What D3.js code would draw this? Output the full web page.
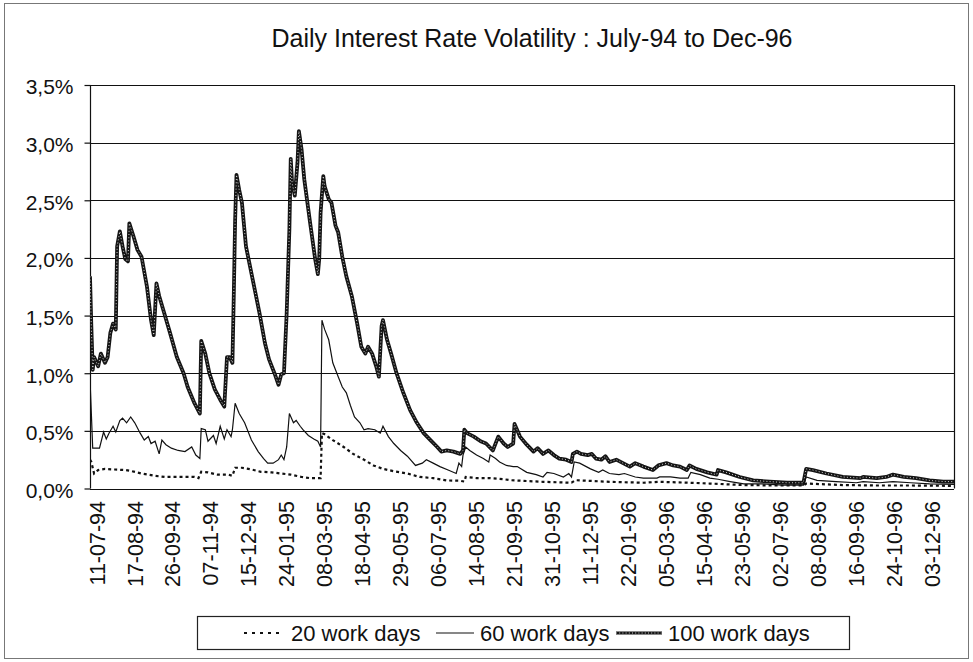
<!DOCTYPE html>
<html>
<head>
<meta charset="utf-8">
<script src="https://cdn.jsdelivr.net/npm/d3@7"></script>
<style>
  html, body { margin: 0; padding: 0; background: #fff; }
  svg { display: block; font-family: "Liberation Sans", Arial, sans-serif; }
</style>
</head>
<body>
<svg id="chart" width="973" height="662"></svg>
<script>
// ---------------- DATA ----------------
const title = "Daily Interest Rate Volatility : July-94 to Dec-96";

// x-axis category labels (every 28th work day) and their work-day index
const xLabels = ["11-07-94","17-08-94","26-09-94","07-11-94","15-12-94","24-01-95","08-03-95","18-04-95",
  "29-05-95","06-07-95","14-08-95","21-09-95","31-10-95","11-12-95","22-01-96","05-03-96","15-04-96",
  "23-05-96","02-07-96","08-08-96","16-09-96","24-10-96","03-12-96"];
const xLabelDays = [5,33,61,89,117,145,173,201,229,257,285,313,341,369,397,425,453,481,509,537,565,593,621];
const totalDays = 637;

// y ticks (percent)
const yTicks = [0, 0.5, 1.0, 1.5, 2.0, 2.5, 3.0, 3.5];

const seriesNames = ["20 work days", "60 work days", "100 work days"];

// [work-day index, volatility %]
const vol20 = [[0,0.25],[1,0.23],[3,0.13],[6,0.16],[11,0.17],[18,0.165],[26,0.16],[31,0.15],[38,0.13],[48,0.11],
  [55,0.10],[62,0.10],[70,0.10],[77,0.10],[80,0.09],[82,0.145],[87,0.14],[94,0.12],[102,0.12],[105,0.11],
  [107,0.18],[112,0.18],[119,0.165],[126,0.145],[134,0.14],[141,0.13],[148,0.12],[156,0.10],[162,0.09],[170,0.09],
  [171,0.48],[173,0.47],[179,0.42],[187,0.36],[194,0.30],[202,0.25],[209,0.20],[216,0.17],[224,0.15],[234,0.13],
  [243,0.10],[253,0.09],[263,0.07],[273,0.067],[276,0.06],[277,0.10],[285,0.09],[295,0.09],[305,0.08],[310,0.072],
  [334,0.058],[355,0.05],[358,0.072],[383,0.058],[408,0.05],[420,0.058],[442,0.05],[457,0.043],[482,0.03],[506,0.026],
  [526,0.026],[528,0.043],[555,0.03],[580,0.026],[605,0.026],[637,0.023]];

const vol60 = [[0,0.95],[2,0.35],[7,0.35],[10,0.49],[12,0.43],[14,0.48],[17,0.54],[19,0.49],[22,0.59],[24,0.61],
  [27,0.57],[30,0.62],[33,0.57],[37,0.48],[40,0.42],[43,0.45],[45,0.39],[48,0.41],[51,0.30],[53,0.42],
  [56,0.38],[60,0.35],[65,0.33],[70,0.32],[75,0.36],[78,0.29],[81,0.26],[82,0.52],[85,0.51],[87,0.41],
  [91,0.46],[93,0.39],[96,0.54],[99,0.43],[101,0.51],[104,0.45],[105,0.51],[107,0.74],[110,0.65],[114,0.57],
  [119,0.42],[124,0.32],[128,0.26],[131,0.22],[135,0.22],[139,0.25],[141,0.29],[143,0.25],[145,0.36],[147,0.65],
  [150,0.57],[152,0.59],[155,0.54],[157,0.51],[161,0.46],[165,0.43],[168,0.41],[170,0.36],[171,1.46],[173,1.38],
  [176,1.29],[179,1.09],[183,0.97],[186,0.88],[189,0.83],[192,0.72],[195,0.62],[199,0.57],[202,0.51],[205,0.52],
  [210,0.51],[214,0.48],[216,0.54],[220,0.45],[224,0.39],[229,0.33],[234,0.28],[240,0.20],[245,0.22],[248,0.25],
  [253,0.22],[258,0.19],[264,0.16],[270,0.13],[272,0.22],[274,0.19],[275,0.29],[277,0.36],[280,0.33],[285,0.29],
  [290,0.26],[294,0.23],[295,0.29],[299,0.26],[302,0.23],[307,0.20],[312,0.19],[315,0.19],[322,0.14],[329,0.12],
  [334,0.10],[337,0.14],[342,0.13],[349,0.10],[353,0.13],[355,0.10],[357,0.23],[361,0.22],[369,0.17],[375,0.14],
  [378,0.16],[383,0.13],[390,0.12],[394,0.13],[402,0.10],[408,0.09],[418,0.09],[420,0.10],[428,0.10],[435,0.09],
  [441,0.09],[443,0.14],[450,0.12],[457,0.09],[463,0.08],[472,0.06],[482,0.04],[496,0.04],[511,0.03],[526,0.03],
  [528,0.10],[536,0.07],[550,0.06],[565,0.05],[570,0.06],[582,0.05],[592,0.06],[605,0.05],[619,0.04],[637,0.035]];

const vol100 = [[0,1.84],[1,1.40],[2,1.03],[3,1.14],[6,1.06],[8,1.17],[11,1.09],[13,1.14],[15,1.35],[17,1.43],
  [19,1.38],[20,2.10],[22,2.23],[24,2.10],[26,1.99],[28,1.97],[29,2.30],[32,2.19],[35,2.07],[38,2.01],
  [42,1.75],[45,1.46],[47,1.33],[49,1.78],[51,1.67],[54,1.55],[59,1.35],[64,1.14],[69,1.00],[72,0.88],
  [77,0.74],[81,0.65],[82,1.28],[85,1.17],[88,1.00],[92,0.86],[96,0.77],[99,0.71],[101,1.14],[103,1.14],
  [105,1.09],[106,1.67],[107,2.33],[108,2.72],[110,2.59],[112,2.48],[115,2.10],[120,1.81],[125,1.52],[129,1.26],
  [132,1.12],[136,1.00],[139,0.90],[141,0.99],[143,1.00],[145,1.52],[147,2.25],[148,2.86],[149,2.65],[151,2.54],
  [153,2.83],[154,3.10],[156,2.94],[158,2.68],[162,2.33],[166,1.99],[168,1.86],[169,1.99],[170,2.39],[172,2.71],
  [173,2.62],[176,2.51],[178,2.48],[181,2.28],[183,2.22],[186,2.01],[189,1.84],[193,1.67],[197,1.43],[200,1.23],
  [203,1.17],[205,1.23],[208,1.17],[211,1.06],[213,0.97],[215,1.41],[216,1.46],[219,1.29],[222,1.17],[226,1.00],
  [231,0.83],[236,0.68],[241,0.57],[246,0.48],[251,0.42],[256,0.36],[259,0.32],[263,0.33],[268,0.32],[273,0.30],
  [275,0.33],[276,0.51],[278,0.48],[283,0.45],[288,0.41],[292,0.39],[297,0.33],[301,0.45],[305,0.39],[308,0.36],
  [312,0.39],[313,0.56],[317,0.45],[322,0.38],[327,0.32],[330,0.35],[334,0.30],[338,0.33],[342,0.29],[346,0.26],
  [351,0.25],[355,0.23],[356,0.30],[359,0.32],[362,0.30],[367,0.29],[370,0.30],[373,0.26],[377,0.25],[380,0.28],
  [383,0.23],[388,0.25],[393,0.22],[398,0.19],[402,0.22],[408,0.19],[415,0.16],[419,0.20],[425,0.22],[430,0.20],
  [435,0.19],[440,0.16],[442,0.20],[447,0.17],[455,0.14],[462,0.12],[463,0.16],[469,0.14],[479,0.10],[489,0.07],
  [501,0.06],[514,0.05],[526,0.05],[528,0.17],[533,0.16],[543,0.13],[555,0.10],[568,0.09],[570,0.10],[580,0.09],
  [587,0.10],[592,0.12],[600,0.10],[609,0.09],[619,0.07],[629,0.06],[637,0.06]];

// ---------------- DRAW ----------------
const svg = d3.select("#chart");
const plot = {left: 90, right: 954, top: 85, bottom: 488.5};

const x = d3.scaleLinear().domain([0, totalDays]).range([plot.left, plot.right]);
const y = d3.scaleLinear().domain([0, 3.5]).range([plot.bottom, plot.top]);

// outer frame
svg.append("rect").attr("x", 4.5).attr("y", 3.5).attr("width", 964).attr("height", 655)
  .attr("fill", "none").attr("stroke", "#777").attr("stroke-width", 1);

// title
svg.append("text").attr("x", 532).attr("y", 47).attr("text-anchor", "middle")
  .attr("font-size", 25).attr("fill", "#111").text(title);

// gridlines
svg.append("g").selectAll("line").data(yTicks).join("line")
  .attr("x1", plot.left).attr("x2", plot.right)
  .attr("y1", d => Math.round(y(d)) + 0.5).attr("y2", d => Math.round(y(d)) + 0.5)
  .attr("stroke", "#111").attr("stroke-width", 1.2);

// plot border left/right
svg.append("line").attr("x1", plot.left + 0.5).attr("x2", plot.left + 0.5)
  .attr("y1", plot.top).attr("y2", plot.bottom).attr("stroke", "#111").attr("stroke-width", 1.2);
svg.append("line").attr("x1", plot.right + 0.5).attr("x2", plot.right + 0.5)
  .attr("y1", plot.top).attr("y2", plot.bottom).attr("stroke", "#111").attr("stroke-width", 1.2);

// y axis
const fmtPct = d => d3.format(".1f")(d).replace(".", ",") + "%";
const yAxis = d3.axisLeft(y).tickValues(yTicks).tickFormat(fmtPct).tickSize(6).tickPadding(11);
const gy = svg.append("g").attr("transform", `translate(${plot.left + 0.5},0)`).call(yAxis);
gy.select(".domain").remove();
gy.selectAll(".tick line").attr("stroke", "#111").attr("stroke-width", 1.2);
gy.selectAll(".tick text").attr("font-size", 21).attr("fill", "#111")
  .attr("font-family", "Liberation Sans, Arial, sans-serif").attr("dy", "0.42em");

// x labels
const gx = svg.append("g");
gx.selectAll("text").data(xLabels).join("text")
  .attr("transform", (d, i) => `translate(${x(xLabelDays[i])},501) rotate(-90)`)
  .attr("text-anchor", "end").attr("dy", "0.36em")
  .attr("font-size", 21.5).attr("fill", "#111").text(d => d);

// lines
const line = d3.line().x(d => x(d[0])).y(d => y(d[1]));
svg.append("clipPath").attr("id", "clipPlot").append("rect")
  .attr("x", plot.left).attr("y", plot.top - 2).attr("width", plot.right - plot.left).attr("height", plot.bottom - plot.top + 4);
const gl = svg.append("g").attr("clip-path", "url(#clipPlot)");

gl.append("path").datum(vol100).attr("d", line).attr("fill", "none")
  .attr("stroke", "#151515").attr("stroke-width", 3.8).attr("stroke-linejoin", "round");
gl.append("path").datum(vol100).attr("d", line).attr("fill", "none")
  .attr("stroke", "#fff").attr("stroke-width", 0.8).attr("stroke-dasharray", "1,2.2");
gl.append("path").datum(vol60).attr("d", line).attr("fill", "none")
  .attr("stroke", "#111").attr("stroke-width", 1.2);
gl.append("path").datum(vol20).attr("d", line).attr("fill", "none")
  .attr("stroke", "#111").attr("stroke-width", 2.2).attr("stroke-dasharray", "3,3");

// legend
const lg = svg.append("g");
lg.append("rect").attr("x", 197.5).attr("y", 616.5).attr("width", 652).attr("height", 33)
  .attr("fill", "#fff").attr("stroke", "#222").attr("stroke-width", 1.2);
const ly = 633;
const legendItems = [
  {sx: 244, ex: 284, tx: 291},
  {sx: 436, ex: 474, tx: 480},
  {sx: 616, ex: 662, tx: 668}
];
lg.append("line").attr("x1", legendItems[0].sx).attr("x2", legendItems[0].ex).attr("y1", ly).attr("y2", ly)
  .attr("stroke", "#111").attr("stroke-width", 2.2).attr("stroke-dasharray", "3,5");
lg.append("line").attr("x1", legendItems[1].sx).attr("x2", legendItems[1].ex).attr("y1", ly).attr("y2", ly)
  .attr("stroke", "#111").attr("stroke-width", 1.2);
lg.append("line").attr("x1", legendItems[2].sx).attr("x2", legendItems[2].ex).attr("y1", ly).attr("y2", ly)
  .attr("stroke", "#151515").attr("stroke-width", 3.2);
lg.append("line").attr("x1", legendItems[2].sx).attr("x2", legendItems[2].ex).attr("y1", ly).attr("y2", ly)
  .attr("stroke", "#fff").attr("stroke-width", 0.8).attr("stroke-dasharray", "1,2.2");
lg.selectAll("text").data(seriesNames).join("text")
  .attr("x", (d, i) => legendItems[i].tx).attr("y", ly + 8)
  .attr("font-size", 22).attr("fill", "#111").text(d => d);
</script>
</body>
</html>
